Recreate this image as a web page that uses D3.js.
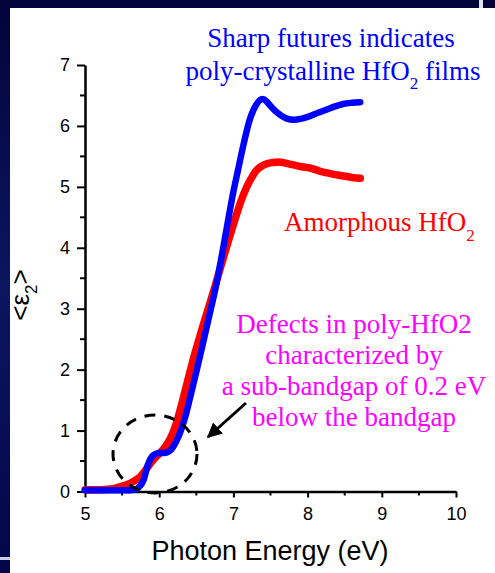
<!DOCTYPE html>
<html>
<head>
<meta charset="utf-8">
<script src="https://cdn.jsdelivr.net/npm/d3@7"></script>
<style>
  body { margin: 0; background: #04053f; }
  svg { display: block; }
</style>
</head>
<body>
<div id="chart"></div>
<script>
// photon energy (eV) and <e2>
var polyE = [5.0, 5.3, 5.6, 5.68, 5.74, 5.79, 5.85, 5.9, 5.94, 6.0, 6.06, 6.12, 6.17, 6.22, 6.28, 6.35,
    6.42, 6.5, 6.58, 6.67, 6.77, 6.86, 6.93, 7.0, 7.07, 7.13, 7.22, 7.31, 7.39, 7.45, 7.49, 7.56, 7.63,
    7.72, 7.81, 7.92, 8.03, 8.15, 8.26, 8.37, 8.48, 8.6, 8.71];
var polyEps = [0.02, 0.02, 0.02, 0.03, 0.09, 0.19, 0.45, 0.57, 0.61, 0.63, 0.63, 0.65, 0.7, 0.8, 0.96, 1.22,
    1.56, 1.96, 2.38, 2.86, 3.4, 3.98, 4.46, 4.92, 5.32, 5.66, 6.1, 6.35, 6.44, 6.4, 6.34, 6.25, 6.18,
    6.12, 6.1, 6.12, 6.16, 6.22, 6.27, 6.32, 6.36, 6.38, 6.39];

var amorE = [5.0, 5.2, 5.34, 5.45, 5.56, 5.66, 5.74, 5.81, 5.88, 5.95, 6.01, 6.08, 6.15, 6.22, 6.3, 6.38,
    6.47, 6.6, 6.75, 6.89, 7.02, 7.1, 7.18, 7.25, 7.31, 7.38, 7.45, 7.53, 7.61, 7.7, 7.81, 7.92,
    8.03, 8.16, 8.3, 8.42, 8.53, 8.62, 8.71];
var amorEps = [0.03, 0.03, 0.04, 0.07, 0.11, 0.17, 0.24, 0.34, 0.46, 0.56, 0.63, 0.73, 0.87, 1.08, 1.42, 1.8,
    2.22, 2.76, 3.36, 3.94, 4.46, 4.76, 5.0, 5.16, 5.27, 5.34, 5.38, 5.4, 5.41, 5.39, 5.36, 5.33,
    5.31, 5.26, 5.22, 5.19, 5.17, 5.15, 5.14];

var xTicks = [5, 6, 7, 8, 9, 10];
var yTicks = [0, 1, 2, 3, 4, 5, 6, 7];

var svgWidth = 495;
var svgHeight = 573;

var svg = d3.select("#chart")
    .append("svg")
    .attr("width", svgWidth)
    .attr("height", svgHeight);

// slide background
var grad = svg.append("defs").append("linearGradient")
    .attr("id", "bg").attr("x1", 0).attr("y1", 0).attr("x2", 0).attr("y2", 1);
grad.append("stop").attr("offset", "0%").attr("stop-color", "#02033a");
grad.append("stop").attr("offset", "50%").attr("stop-color", "#0b1660");
grad.append("stop").attr("offset", "100%").attr("stop-color", "#03064a");
svg.append("rect").attr("width", svgWidth).attr("height", svgHeight).attr("fill", "url(#bg)");
svg.append("rect").attr("x", 10).attr("y", 8).attr("width", svgWidth - 10).attr("height", svgHeight - 8)
    .attr("fill", "#fff");
svg.append("rect").attr("x", 479).attr("y", 0).attr("width", 4).attr("height", 8).attr("fill", "#dfe3ee");
svg.append("rect").attr("x", 0).attr("y", 557).attr("width", 10).attr("height", 3).attr("fill", "#c9d0e4");

var x = d3.scaleLinear().domain([5, 10]).range([85, 456]);
var y = d3.scaleLinear().domain([0, 7]).range([491.5, 65]);

// minor ticks
var g = svg.append("g");
g.selectAll(".xminor")
    .data(d3.range(5.5, 10, 1))
    .enter().append("line")
    .attr("x1", d => x(d)).attr("x2", d => x(d))
    .attr("y1", y(0)).attr("y2", y(0) + 4)
    .attr("stroke", "#000").attr("stroke-width", 2);
g.selectAll(".yminor")
    .data(d3.range(0.5, 7, 1))
    .enter().append("line")
    .attr("x1", x(5) - 5).attr("x2", x(5))
    .attr("y1", d => y(d)).attr("y2", d => y(d))
    .attr("stroke", "#000").attr("stroke-width", 2);

var bottomAxis = d3.axisBottom(x).tickValues(xTicks).tickFormat(d3.format("d"))
    .tickSize(6).tickSizeOuter(0).tickPadding(10);
var leftAxis = d3.axisLeft(y).tickValues(yTicks).tickFormat(d3.format("d"))
    .tickSize(8).tickSizeOuter(0).tickPadding(7);

var xg = svg.append("g").attr("transform", `translate(0, ${y(0)})`).call(bottomAxis);
var yg = svg.append("g").attr("transform", `translate(${x(5)}, 0)`).call(leftAxis);
[xg, yg].forEach(function(a) {
    a.select(".domain").attr("stroke", "#000").attr("stroke-width", 2.5);
    a.selectAll(".tick line").attr("stroke", "#000").attr("stroke-width", 2);
    a.selectAll(".tick text")
        .attr("fill", "#000")
        .style("font-family", "'Liberation Sans', Arial, sans-serif")
        .style("font-size", "18px");
});

// curves
var line = d3.line()
    .x(d => x(d[0]))
    .y(d => y(d[1]))
    .curve(d3.curveMonotoneX);

svg.append("path")
    .datum(d3.zip(amorE, amorEps))
    .attr("d", line)
    .attr("fill", "none")
    .attr("stroke", "#ff0000")
    .attr("stroke-width", 7.5)
    .attr("stroke-linecap", "round")
    .attr("stroke-linejoin", "round");

svg.append("path")
    .datum(d3.zip(polyE, polyEps))
    .attr("d", line)
    .attr("fill", "none")
    .attr("stroke", "#0000ff")
    .attr("stroke-width", 6.5)
    .attr("stroke-linecap", "round")
    .attr("stroke-linejoin", "round");

// axis titles
svg.append("text")
    .attr("x", 270).attr("y", 560)
    .attr("text-anchor", "middle")
    .style("font-family", "'Liberation Sans', Arial, sans-serif")
    .style("font-size", "27px")
    .text("Photon Energy (eV)");

var yl = svg.append("text")
    .attr("transform", "translate(29, 295) rotate(-90)")
    .attr("text-anchor", "middle")
    .style("font-family", "'Liberation Sans', Arial, sans-serif")
    .style("font-size", "26px");
yl.append("tspan").text("<ε");
yl.append("tspan").attr("dy", 8).style("font-size", "17px").text("2");
yl.append("tspan").attr("dy", -8).text(">");

// annotations
var serif = "'Liberation Serif', 'Times New Roman', serif";

svg.append("text")
    .attr("x", 331).attr("y", 47)
    .attr("text-anchor", "middle")
    .attr("fill", "#0000ff")
    .style("font-family", serif).style("font-size", "27px")
    .text("Sharp futures indicates");

var t2 = svg.append("text")
    .attr("x", 333).attr("y", 80)
    .attr("text-anchor", "middle")
    .attr("fill", "#0000ff")
    .style("font-family", serif).style("font-size", "27px");
t2.append("tspan").text("poly-crystalline HfO");
t2.append("tspan").attr("dy", 9).style("font-size", "17px").text("2");
t2.append("tspan").attr("dy", -9).text(" films");

var t3 = svg.append("text")
    .attr("x", 284).attr("y", 231)
    .attr("fill", "#ff0000")
    .style("font-family", serif).style("font-size", "27px");
t3.append("tspan").text("Amorphous HfO");
t3.append("tspan").attr("dy", 10).style("font-size", "17px").text("2");

var defects = ["Defects in poly-HfO2", "characterized by", "a sub-bandgap of 0.2 eV", "below the bandgap"];
svg.selectAll(".defect")
    .data(defects)
    .enter().append("text")
    .attr("x", 354)
    .attr("y", (d, i) => 333 + i * 31)
    .attr("text-anchor", "middle")
    .attr("fill", "#ff00ff")
    .style("font-family", serif).style("font-size", "27px")
    .text(d => d);

// dashed circle and arrow
svg.append("ellipse")
    .attr("cx", 155).attr("cy", 454)
    .attr("rx", 42).attr("ry", 39)
    .attr("fill", "none")
    .attr("stroke", "#000")
    .attr("stroke-width", 3)
    .attr("stroke-dasharray", "11 9");

svg.append("defs").append("marker")
    .attr("id", "head")
    .attr("viewBox", "0 0 10 10")
    .attr("refX", 9).attr("refY", 5)
    .attr("markerWidth", 5).attr("markerHeight", 5)
    .attr("orient", "auto")
    .append("path").attr("d", "M0,0 L10,5 L0,10 z").attr("fill", "#000");

svg.append("line")
    .attr("x1", 246).attr("y1", 403)
    .attr("x2", 208).attr("y2", 437)
    .attr("stroke", "#000")
    .attr("stroke-width", 3)
    .attr("marker-end", "url(#head)");
</script>
</body>
</html>
